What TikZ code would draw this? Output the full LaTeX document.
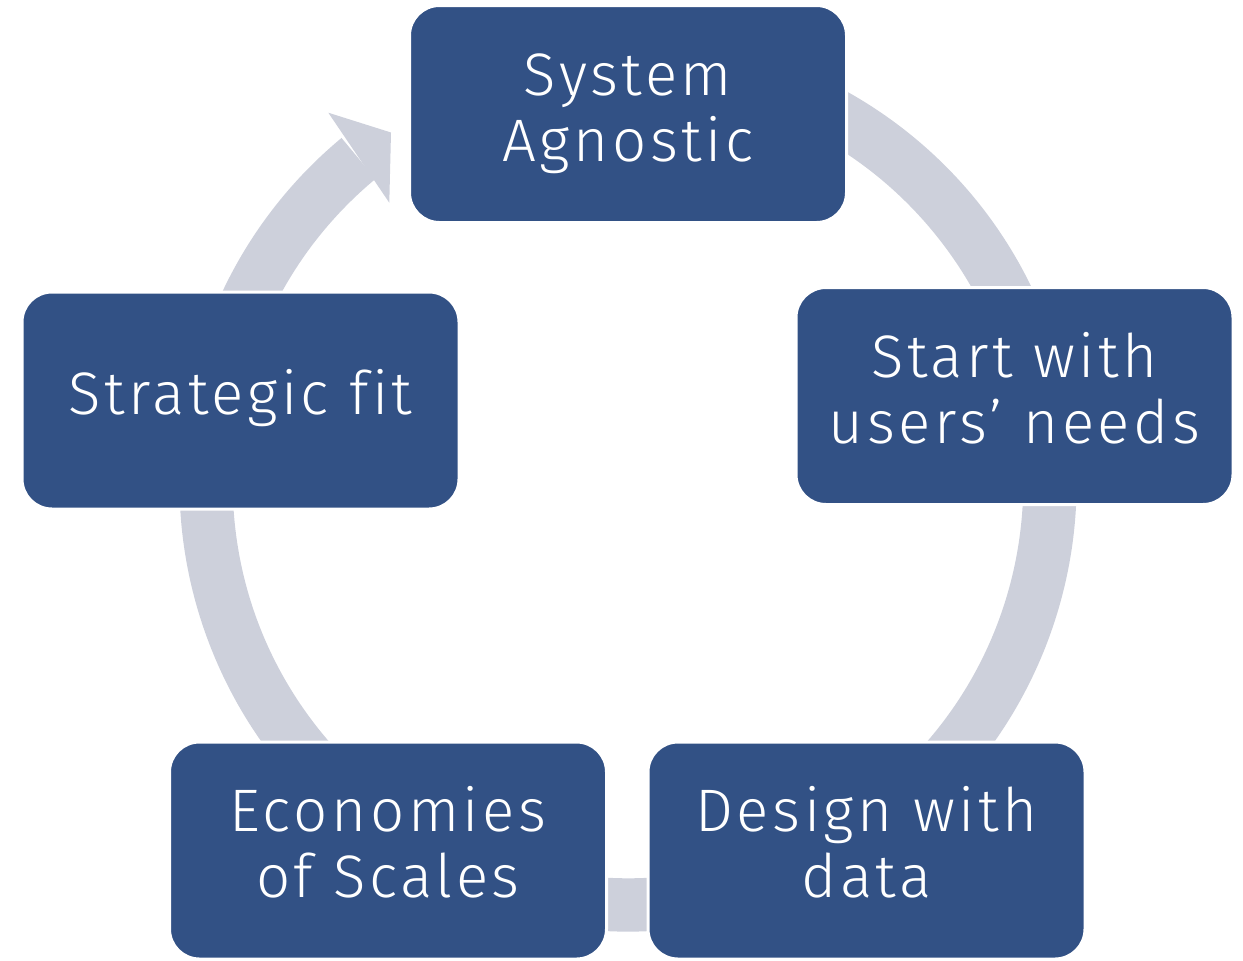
\documentclass[tikz,border=0pt]{standalone}
\usepackage{fontspec}
\setmainfont{Fira Sans}[UprightFont={* Light}, Ligatures=NoCommon, LetterSpace=6]
\usetikzlibrary{calc}
\definecolor{boxblue}{RGB}{50,81,133}
\definecolor{ringgray}{RGB}{205,208,219}
\begin{document}
\begin{tikzpicture}[x=0.5pt,y=-0.5pt,
  stagebox/.style={rectangle, rounded corners=15pt, fill=boxblue, draw=white,
    line width=1.5pt, minimum width=218.5pt, minimum height=108.5pt, inner sep=0pt},
  stagetext/.style={text=white, align=center, inner sep=0pt, yshift=-0.5pt,
    font=\fontsize{30pt}{33pt}\selectfont}]
\useasboundingbox (0,0) rectangle (1243,960);
\coordinate (c) at (628,483);
% ring
\fill[ringgray] ($(c)+(-110:448.5)$) arc[start angle=-110, end angle=230.3, radius=448.5]
  -- ($(c)+(230.3:395.3)$) arc[start angle=230.3, end angle=-110, radius=395.3] -- cycle;
\coordinate (h1) at (328.3,112.7);
\coordinate (h2) at (391,132.5);
\coordinate (h3) at (389.3,202.7);
\fill[ringgray] (h1) -- (h2) -- (h3) -- cycle;
% boxes
\node[stagebox] (sys) at (628,114) {};
\node[stagebox] (start) at (1014.5,396) {};
\node[stagebox] (design) at (866.5,850.5) {};
\node[stagebox] (econ) at (388,850.5) {};
\node[stagebox] (strat) at (240.5,400.5) {};
% texts
\node[stagetext] (sys-t) at (sys.center) {\strut System\\\strut Agnostic};
\node[stagetext] (start-t) at (start.center) {\strut Start with\\\strut users’ needs};
\node[stagetext] (design-t) at (design.center) {\strut Design with\\\strut data};
\node[stagetext] (econ-t) at (econ.center) {\strut Economies\\\strut of Scales};
\node[stagetext] (strat-t) at (strat.center) {\strut Strategic fit};
\end{tikzpicture}
\end{document}
